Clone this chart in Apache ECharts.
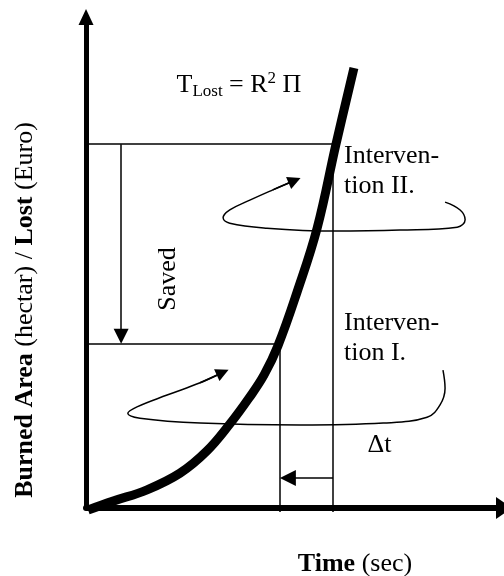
<!DOCTYPE html>
<html>
<head>
<meta charset="utf-8">
<title>Burned area / time</title>
<script src="https://cdn.jsdelivr.net/npm/echarts@6/dist/echarts.min.js"></script>
<style>
  html, body { margin: 0; padding: 0; background: #fff; }
  #chart { width: 504px; height: 576px; }
</style>
</head>
<body>
<div id="chart"></div>
<script>
// fire spread curve, time vs burned area (arbitrary 0-100 units)
const curveTime = [0.5, 6.5, 14.6, 22.5, 28.9, 34.4, 39.0, 42.6, 45.9, 50.5, 55.3, 59.8, 64.1]
const curveArea = [-0.4, 1.4, 3.7, 7.1, 11.6, 17.1, 22.4, 27.1, 33.0, 44.0, 57.0, 74.1, 89.6]

// intervention I and II
const interventionTime = [46.4, 59.1]
const interventionArea = [33.4, 74.1]
const guideBottom = -0.8

const savedArrowTime = 8.4
const savedArrowEnd = 35.0
const deltaArrowArea = 6.1
const deltaArrowEnd = 48.3

// swirl arrows next to each intervention
const loop1Time = [85.4, 85.9, 84.7, 81.6, 71.1, 51.2, 27.3, 12.9, 10.0, 12.2, 19.4, 27.3, 32.7]
const loop1Area = [28.1, 24.4, 21.0, 18.5, 17.3, 16.9, 17.3, 18.3, 19.3, 20.6, 23.0, 25.5, 27.6]
const loop2Time = [85.9, 89.5, 90.7, 88.8, 75.1, 59.1, 43.3, 34.4, 32.8, 34.4, 39.2, 44.7, 49.9]
const loop2Area = [62.3, 60.7, 58.7, 57.2, 56.6, 56.4, 57.0, 58.0, 59.1, 60.7, 62.7, 64.8, 66.7]

const serif = "'Liberation Serif', 'Times New Roman', serif"

function zip(xs, ys) {
  return xs.map((x, i) => [x, ys[i]])
}

function lastSegment(xs, ys) {
  const n = xs.length
  return [[xs[n - 2], ys[n - 2]], [xs[n - 1], ys[n - 1]]]
}

function hideAxisParts(axis) {
  return Object.assign({
    type: 'value',
    min: 0,
    max: 100,
    axisTick: { show: false },
    axisLabel: { show: false },
    splitLine: { show: false }
  }, axis)
}

function textEl(x, y, text, style, rotation) {
  return {
    type: 'text',
    x: x,
    y: y,
    rotation: rotation || 0,
    silent: true,
    style: Object.assign({
      text: text,
      fill: '#000',
      fontFamily: serif,
      fontSize: 26,
      lineHeight: 30,
      align: 'left',
      textAlign: 'left',
      verticalAlign: 'top',
      textVerticalAlign: 'top'
    }, style)
  }
}

const thinLine = { color: '#000', width: 1.5, opacity: 1, curveness: 0 }

const guides = [
  [[0, interventionArea[1]], [interventionTime[1], interventionArea[1]]],
  [[interventionTime[1], interventionArea[1]], [interventionTime[1], guideBottom]],
  [[0, interventionArea[0]], [interventionTime[0], interventionArea[0]]],
  [[interventionTime[0], interventionArea[0]], [interventionTime[0], guideBottom]]
]

const chart = echarts.init(document.getElementById('chart'))

chart.setOption({
  animation: false,
  backgroundColor: '#fff',
  grid: { left: 86, right: 0, top: 17, bottom: 68, containLabel: false },
  xAxis: hideAxisParts({
    axisLine: {
      onZero: false,
      symbol: ['none', 'triangle'],
      symbolSize: [22, 16],
      lineStyle: { color: '#000', width: 6 }
    }
  }),
  yAxis: hideAxisParts({
    axisLine: {
      onZero: false,
      symbol: ['none', 'triangle'],
      symbolSize: [15, 16],
      lineStyle: { color: '#000', width: 5 }
    }
  }),
  series: [
    {
      type: 'lines',
      coordinateSystem: 'cartesian2d',
      clip: false,
      silent: true,
      lineStyle: thinLine,
      data: guides.map(c => ({ coords: c }))
    },
    {
      type: 'lines',
      coordinateSystem: 'cartesian2d',
      clip: false,
      silent: true,
      symbol: ['none', 'triangle'],
      symbolSize: [14, 15],
      lineStyle: thinLine,
      data: [
        { coords: [[savedArrowTime, interventionArea[1]], [savedArrowTime, savedArrowEnd]] },
        { coords: [[interventionTime[1], deltaArrowArea], [deltaArrowEnd, deltaArrowArea]], symbolSize: [13, 16] }
      ]
    },
    {
      type: 'line',
      data: zip(loop1Time, loop1Area),
      smooth: 0.4,
      symbol: 'none',
      clip: false,
      silent: true,
      lineStyle: { color: '#000', width: 1.5 }
    },
    {
      type: 'line',
      data: zip(loop2Time, loop2Area),
      smooth: 0.4,
      symbol: 'none',
      clip: false,
      silent: true,
      lineStyle: { color: '#000', width: 1.5 }
    },
    {
      type: 'lines',
      coordinateSystem: 'cartesian2d',
      clip: false,
      silent: true,
      symbol: ['none', 'triangle'],
      symbolSize: [11, 13],
      lineStyle: thinLine,
      data: [
        { coords: lastSegment(loop1Time, loop1Area) },
        { coords: lastSegment(loop2Time, loop2Area) }
      ]
    },
    {
      type: 'line',
      data: zip(curveTime, curveArea),
      smooth: 0.4,
      symbol: 'none',
      clip: false,
      silent: true,
      z: 5,
      lineStyle: { color: '#000', width: 9, cap: 'butt' }
    }
  ],
  graphic: [
    textEl(176.5, 70, '{m|T}{sub|Lost}{m| = R}{sup|2}{m| \u03A0}', {
      rich: {
        m: { fontFamily: serif, fontSize: 26, lineHeight: 30 },
        sub: { fontFamily: serif, fontSize: 17, lineHeight: 17, verticalAlign: 'bottom' },
        sup: { fontFamily: serif, fontSize: 17, lineHeight: 23, verticalAlign: 'top' }
      }
    }),
    textEl(344, 141, 'Interven-\ntion II.'),
    textEl(344, 308, 'Interven-\ntion I.'),
    textEl(367.5, 430, '\u0394t'),
    textEl(168, 279, 'Saved', {
      align: 'center', textAlign: 'center', verticalAlign: 'middle', textVerticalAlign: 'middle'
    }, Math.PI / 2),
    textEl(25, 310, '{b|Burned Area} (hectar) / {b|Lost} (Euro)', {
      align: 'center', textAlign: 'center', verticalAlign: 'middle', textVerticalAlign: 'middle',
      rich: { b: { fontFamily: serif, fontSize: 26, fontWeight: 'bold' } }
    }, Math.PI / 2),
    textEl(355, 564, '{b|Time} (sec)', {
      align: 'center', textAlign: 'center', verticalAlign: 'middle', textVerticalAlign: 'middle',
      rich: { b: { fontFamily: serif, fontSize: 26, fontWeight: 'bold' } }
    })
  ]
})
</script>
</body>
</html>
